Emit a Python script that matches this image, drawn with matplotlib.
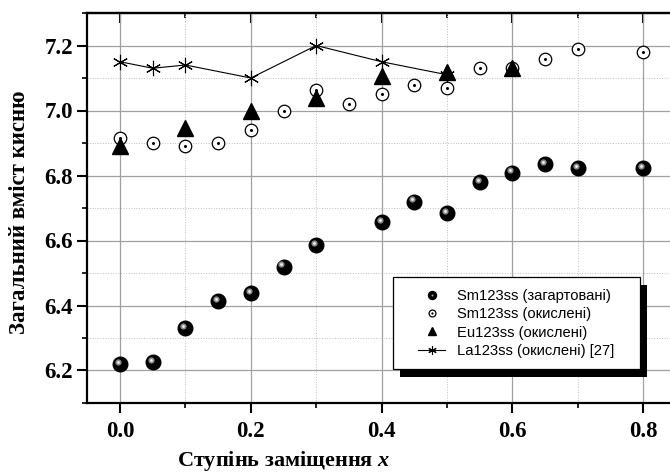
import matplotlib
matplotlib.use("Agg")
import matplotlib.pyplot as plt
import matplotlib.transforms as mtransforms
from matplotlib.patches import Rectangle
from matplotlib.ticker import MultipleLocator, FormatStrFormatter
from matplotlib.legend_handler import HandlerTuple

# Sm123ss загартовані (кульки)
x_sm_q = [0.0, 0.05, 0.1, 0.15, 0.2, 0.25, 0.3, 0.4, 0.45, 0.5, 0.55, 0.6, 0.65, 0.7, 0.8]
y_sm_q = [6.221, 6.226, 6.33, 6.415, 6.438, 6.52, 6.586, 6.656, 6.72, 6.685, 6.779, 6.809, 6.835, 6.822, 6.822]

# Sm123ss окислені (кола)
x_sm_o = [0.0, 0.05, 0.1, 0.15, 0.2, 0.25, 0.3, 0.35, 0.4, 0.45, 0.5, 0.55, 0.6, 0.65, 0.7, 0.8]
y_sm_o = [6.914, 6.90, 6.892, 6.90, 6.94, 7.0, 7.062, 7.02, 7.05, 7.08, 7.07, 7.13, 7.13, 7.16, 7.19, 7.18]

# Eu123ss окислені (трикутники)
x_eu = [0.0, 0.1, 0.2, 0.3, 0.4, 0.5, 0.6]
y_eu = [6.89, 6.945, 7.0, 7.04, 7.105, 7.12, 7.13]

# La123ss окислені [27] (зірочки з лінією)
x_la = [0.0, 0.05, 0.1, 0.2, 0.3, 0.4, 0.5]
y_la = [7.15, 7.13, 7.14, 7.10, 7.2, 7.15, 7.11]

labels = ["Sm123ss (загартовані)", "Sm123ss (окислені)",
          "Eu123ss (окислені)", "La123ss (окислені) [27]"]

serif = "Liberation Serif"
plt.rcParams["mathtext.fontset"] = "custom"
plt.rcParams["mathtext.it"] = "Liberation Serif:italic:bold"
plt.rcParams["mathtext.rm"] = "Liberation Serif:bold"

fig = plt.figure(figsize=(6.7, 4.74), dpi=100)
ax = fig.add_axes([87/670, 71/474, 585/670, 390/474])

# зірочка La123ss з лінією
la_line, = ax.plot(x_la, y_la, color="black", lw=0.8, marker=(6, 2, 0),
                   markersize=11, markeredgewidth=0.8, zorder=3)

# трикутники Eu123ss
eu_pts, = ax.plot(x_eu, y_eu, ls="none", marker="^", markersize=11,
                  color="black", zorder=5)

# кола Sm123ss окислені, з крапкою в центрі
sm_o_pts, = ax.plot(x_sm_o, y_sm_o, ls="none", marker="o", markersize=9,
                    markerfacecolor="white", markeredgecolor="black",
                    markeredgewidth=0.9, zorder=4)
sm_o_dot, = ax.plot(x_sm_o, y_sm_o, ls="none", marker="o", markersize=1.2,
                    color="black", zorder=4)

# кульки Sm123ss загартовані (чорна кулька + відблиск)
sm_q_pts, = ax.plot(x_sm_q, y_sm_q, ls="none", marker="o", markersize=10.5,
                    color="black", zorder=6)
shift = mtransforms.ScaledTranslation(-1.5/72, 1.5/72, fig.dpi_scale_trans)
ax.plot(x_sm_q, y_sm_q, ls="none", marker="o", markersize=4.5,
        markerfacecolor="#8a8a8a", markeredgecolor="none",
        transform=ax.transData + shift, zorder=7)
ax.plot(x_sm_q, y_sm_q, ls="none", marker="o", markersize=2,
        markerfacecolor="#f0f0f0", markeredgecolor="none",
        transform=ax.transData + shift, zorder=8)
sm_q_hl, = ax.plot([], [], ls="none", marker="o", markersize=2.5,
                   markerfacecolor="#aaaaaa", markeredgecolor="none")

ax.set_xlim(-0.0505, 0.844)
ax.set_ylim(6.1, 7.3)

ax.xaxis.set_major_locator(MultipleLocator(0.2))
ax.xaxis.set_minor_locator(MultipleLocator(0.1))
ax.yaxis.set_major_locator(MultipleLocator(0.2))
ax.yaxis.set_minor_locator(MultipleLocator(0.1))
ax.xaxis.set_major_formatter(FormatStrFormatter("%.1f"))
ax.yaxis.set_major_formatter(FormatStrFormatter("%.1f"))

ax.grid(which="major", color="#a0a0a0", lw=0.9, ls="-")
ax.grid(which="minor", color="#c0c0c0", lw=0.7, ls=":")
ax.set_axisbelow(True)

ax.spines["right"].set_visible(False)
for s in ["left", "bottom", "top"]:
    ax.spines[s].set_linewidth(1.6)

ax.tick_params(axis="x", which="major", direction="out", length=7, width=1.5,
               top=False, pad=6)
ax.tick_params(axis="x", which="minor", direction="out", length=3.6, width=1.2,
               top=False)
ax.tick_params(axis="y", which="major", direction="out", length=7, width=1.5,
               right=False, pad=3)
ax.tick_params(axis="y", which="minor", direction="out", length=3.6, width=1.2,
               right=False)
# верхні риски всередину
sec = ax.secondary_xaxis("top")
sec.xaxis.set_major_locator(MultipleLocator(0.2))
sec.xaxis.set_minor_locator(MultipleLocator(0.1))
sec.tick_params(which="major", direction="in", length=7, width=1.5, labeltop=False)
sec.tick_params(which="minor", direction="in", length=3.6, width=1.2)
sec.spines["top"].set_linewidth(1.6)

for lab in ax.get_xticklabels() + ax.get_yticklabels():
    lab.set_fontfamily(serif)
    lab.set_fontweight("bold")
    lab.set_fontsize(16.5)

ax.set_xlabel(r"Ступінь заміщення $\mathit{x}$", fontfamily=serif,
              fontweight="bold", fontsize=16)
ax.xaxis.set_label_coords((284 - 87) / 585, -0.118)
ax.set_ylabel("Загальний вміст кисню", fontfamily=serif,
              fontweight="bold", fontsize=16.5)
ax.yaxis.set_label_coords(-0.098, 0.49)

leg = ax.legend([(sm_q_pts, sm_q_hl), (sm_o_pts, sm_o_dot), eu_pts, la_line],
                labels,
                handler_map={tuple: HandlerTuple(ndivide=1, pad=0)},
                loc="upper left", bbox_to_anchor=(0.565, 0.293),
                borderaxespad=0, borderpad=0, frameon=False,
                handlelength=1.9, handletextpad=0.8, labelspacing=0.3,
                prop={"family": "Liberation Sans", "size": 10.6},
                markerscale=0.55)
leg.set_zorder(20)

# рамка легенди з чорною тінню
fig.canvas.draw()
bb = leg.get_window_extent()
fx0, fy0 = bb.x0 - 25, bb.y0 - 11
fw, fh = bb.width + 25 + 25, bb.height + 11 + 12
ax.add_patch(Rectangle((fx0 + 7, fy0 - 8), fw, fh,
                       transform=mtransforms.IdentityTransform(),
                       facecolor="black", edgecolor="none", zorder=18))
ax.add_patch(Rectangle((fx0, fy0), fw, fh,
                       transform=mtransforms.IdentityTransform(),
                       facecolor="white", edgecolor="black", lw=0.9, zorder=19))

fig.savefig("out.png", dpi=100)
